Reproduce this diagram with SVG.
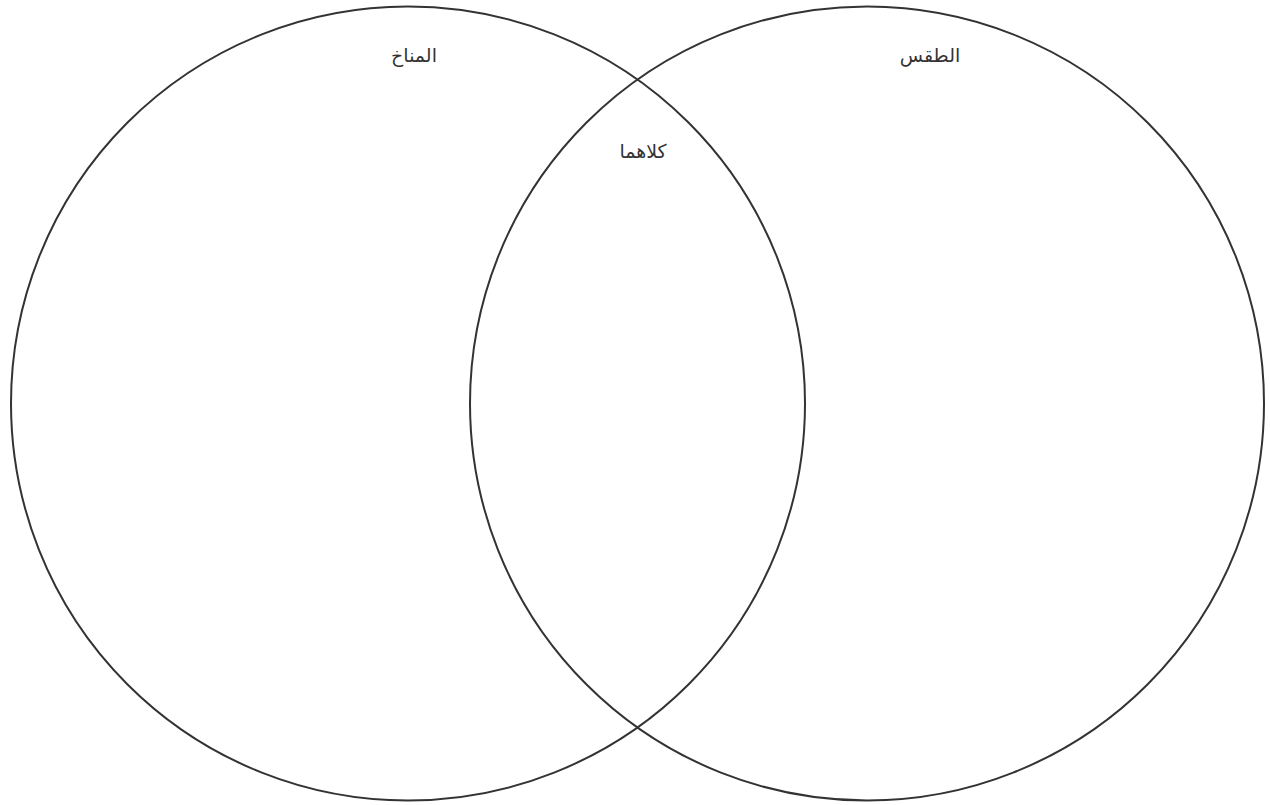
<svg xmlns="http://www.w3.org/2000/svg" width="1270" height="805" viewBox="0 0 1270 805">
<style>
.c{fill:none;stroke:#333;stroke-width:2}
.t{font-family:"DejaVu Sans","Noto Sans",sans-serif;font-size:19px;fill:#333;text-anchor:middle}
</style>
<rect width="1270" height="805" fill="#fff"/>
<g id="climate">
<circle class="c" cx="408" cy="403.5" r="397"/>
<text class="t" x="414" y="62" direction="rtl">المناخ</text>
</g>
<g id="weather">
<circle class="c" cx="867" cy="403.5" r="397"/>
<text class="t" x="930" y="62" direction="rtl">الطقس</text>
</g>
<g id="both">
<text class="t" x="643" y="158" direction="rtl">كلاهما</text>
</g>
<g id="connectors"></g>
</svg>
